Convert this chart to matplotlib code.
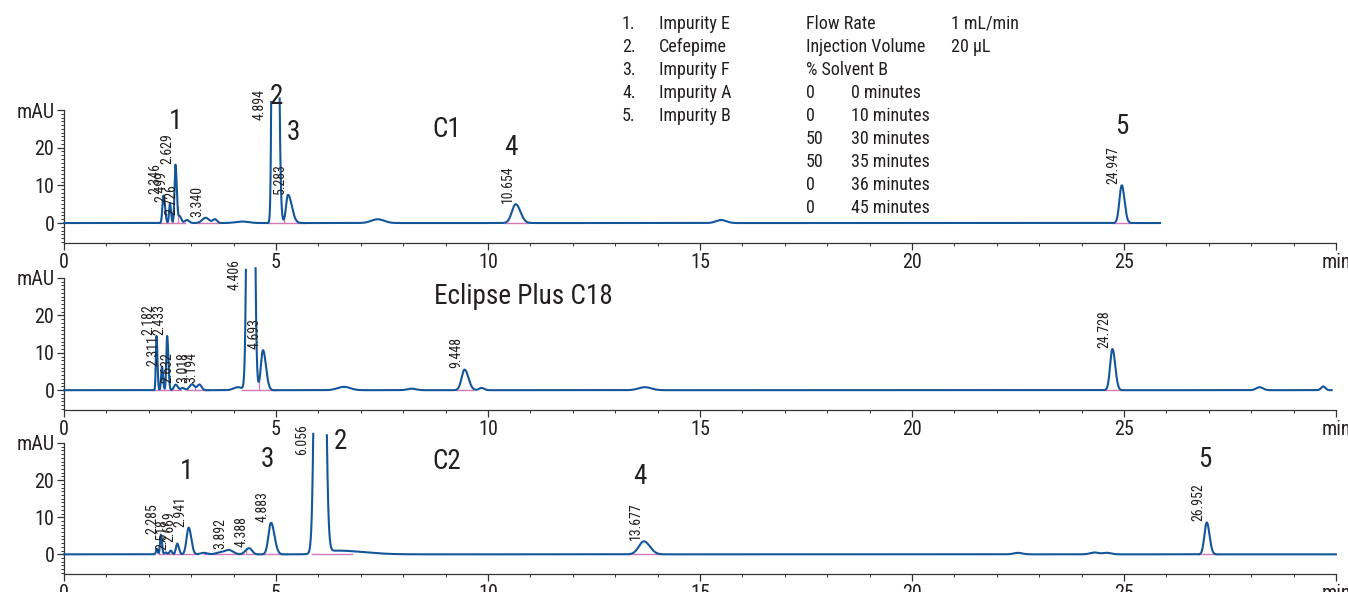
import numpy as np
import matplotlib
matplotlib.use("Agg")
import matplotlib.pyplot as plt
from matplotlib.ticker import MultipleLocator, FixedLocator

plt.rcParams['font.family'] = ['Roboto Condensed', 'DejaVu Sans']

TRACE = '#14569a'
PINK = '#d27ab8'
TXT = '#231f20'

# ---- peak tables: time (min), height (mAU), left/right width ----
c1_rt = [2.346, 2.499, 2.629, 2.726, 2.90, 3.34, 3.56, 4.2, 4.96, 5.283, 7.4, 10.654, 15.5, 24.947]
c1_h = [7.3, 5.2, 15.5, 1.8, 0.8, 1.4, 1.0, 0.4, 300, 7.5, 1.0, 5.0, 0.8, 10.0]
c1_wl = [0.025, 0.02, 0.022, 0.03, 0.05, 0.08, 0.05, 0.15, 0.035, 0.045, 0.15, 0.09, 0.12, 0.055]
c1_wr = [0.035, 0.025, 0.03, 0.04, 0.05, 0.08, 0.05, 0.15, 0.06, 0.09, 0.15, 0.11, 0.12, 0.065]
c1_end = 25.85

c18_rt = [2.182, 2.311, 2.433, 2.632, 2.80, 3.018, 3.194, 4.1, 4.40, 4.693, 6.6, 8.2, 9.448, 9.85, 13.7, 24.728, 28.2, 29.7]
c18_h = [14.5, 6.2, 14.5, 1.5, 0.6, 1.6, 1.5, 0.8, 300, 10.7, 0.9, 0.4, 5.5, 0.6, 0.8, 11.0, 0.8, 1.0]
c18_wl = [0.016, 0.02, 0.02, 0.04, 0.04, 0.06, 0.05, 0.1, 0.052, 0.05, 0.15, 0.1, 0.07, 0.06, 0.15, 0.055, 0.08, 0.05]
c18_wr = [0.022, 0.025, 0.028, 0.05, 0.04, 0.06, 0.05, 0.1, 0.056, 0.07, 0.15, 0.1, 0.09, 0.06, 0.15, 0.065, 0.08, 0.05]
c18_end = 29.9

c2_rt = [2.19, 2.285, 2.40, 2.518, 2.669, 2.941, 3.3, 3.7, 3.892, 4.30, 4.388, 4.883, 6.03, 6.45, 13.677, 22.5, 24.3, 24.6, 26.952]
c2_h = [1.5, 5.3, 0.5, 1.0, 2.9, 7.2, 0.4, 0.6, 1.1, 0.8, 1.3, 8.5, 300, 1.0, 3.5, 0.4, 0.5, 0.4, 8.6]
c2_wl = [0.02, 0.02, 0.03, 0.03, 0.03, 0.05, 0.08, 0.1, 0.08, 0.06, 0.06, 0.06, 0.072, 0.3, 0.12, 0.1, 0.1, 0.1, 0.055]
c2_wr = [0.02, 0.025, 0.03, 0.03, 0.04, 0.06, 0.08, 0.1, 0.1, 0.06, 0.06, 0.08, 0.08, 0.6, 0.14, 0.1, 0.1, 0.1, 0.065]
c2_end = 30.0

# retention-time labels printed above the peaks
c1_labels = [2.346, 2.499, 2.629, 2.726, 3.340, 5.283, 10.654, 24.947]
c18_labels = [2.182, 2.311, 2.433, 2.632, 3.018, 3.194, 4.693, 9.448, 24.728]
c2_labels = [2.285, 2.518, 2.669, 2.941, 3.892, 4.388, 4.883, 13.677, 26.952]
# labels of the off-scale main peak (text, rising edge)
c1_big = ('4.894', 4.89)
c18_big = ('4.406', 4.29)
c2_big = ('6.056', 5.88)

# peak numbers / column names
c1_marks = [('1', 2.64, 27), ('2', 5.0, 33.5), ('3', 5.42, 24), ('C1', 9.03, 24.8), ('4', 10.54, 20), ('5', 24.95, 25.6)]
c18_marks = [('Eclipse Plus C18', 10.83, 25)]
c2_marks = [('1', 2.88, 22.4), ('3', 4.79, 25.6), ('2', 6.51, 30.4), ('C2', 9.03, 25), ('4', 13.58, 21), ('5', 26.9, 25.6)]

# integration baselines (start, end) and drop lines
c1_base = [(2.25, 2.85), (3.15, 3.65), (4.8, 5.65), (10.4, 10.95), (24.75, 25.15)]
c1_drops = [2.43, 2.56, 2.68, 5.18]
c18_base = [(2.1, 2.75), (2.9, 3.4), (4.2, 5.0), (9.25, 9.65), (24.55, 24.95)]
c18_drops = [2.25, 2.37, 2.55, 3.1, 4.6]
c2_base = [(2.25, 3.15), (3.3, 4.25), (4.3, 4.6), (4.65, 5.25), (5.85, 6.8), (13.3, 14.1), (26.75, 27.25)]
c2_drops = [2.47, 2.6, 2.8, 4.3]

legend_items = ['Impurity E', 'Cefepime', 'Impurity F', 'Impurity A', 'Impurity B']
grad_pct = ['0', '0', '50', '50', '0', '0']
grad_time = ['0 minutes', '10 minutes', '30 minutes', '35 minutes', '36 minutes', '45 minutes']


def trace(rt, h, wl, wr, t):
    y = np.zeros_like(t)
    for r, a, sl, sr in zip(rt, h, wl, wr):
        s = np.where(t < r, sl, sr)
        y += a * np.exp(-0.5 * ((t - r) / s) ** 2)
    return y


fig = plt.figure(figsize=(13.48, 5.92), dpi=100)
W, H = 1348, 592


def fpx(x, y):
    return x / W, 1 - y / H


panels = [
    (c1_rt, c1_h, c1_wl, c1_wr, c1_end, c1_labels, c1_big, c1_marks, c1_base, c1_drops, 110, 243, 34.0),
    (c18_rt, c18_h, c18_wl, c18_wr, c18_end, c18_labels, c18_big, c18_marks, c18_base, c18_drops, 278, 410, 33.5),
    (c2_rt, c2_h, c2_wl, c2_wr, c2_end, c2_labels, c2_big, c2_marks, c2_base, c2_drops, 443, 574, 33.6),
]

for rt, h, wl, wr, tend, labels, big, marks, base, drops, ptop, pbot, cap in panels:
    ax = fig.add_axes([64 / W, 1 - pbot / H, (1336 - 64) / W, (pbot - ptop) / H])
    t = np.arange(0, tend, 0.002)
    y = trace(rt, h, wl, wr, t)
    yp = np.where(y > cap, np.nan, y)

    # pink integration marks
    for a, b in base:
        ax.plot([a, b], [0, 0], color=PINK, lw=1.0, zorder=2)
    for d in drops:
        ax.plot([d, d], [0, np.interp(d, t, y)], color=PINK, lw=0.9, zorder=2)

    ax.plot(t, yp, color=TRACE, lw=1.5, zorder=3, clip_on=False)

    for r in labels:
        yy = min(np.interp(r, t, y), cap)
        ax.text(r - 0.03, yy + 0.3, f'{r:.3f}', rotation=90, ha='right', va='bottom',
                fontsize=10, color=TXT)
    ax.text(big[1] - 0.1, cap + 1.5, big[0], rotation=90, ha='right', va='top',
            fontsize=10, color=TXT)
    for s, x, yy in marks:
        ax.text(x, yy, s, ha='center', va='center', fontsize=19.5, color=TXT)

    ax.set_xlim(0, 30)
    ax.set_ylim(-5.3, 30)
    for side in ['top', 'right']:
        ax.spines[side].set_visible(False)
    for side in ['left', 'bottom']:
        ax.spines[side].set_color('#333333')
        ax.spines[side].set_linewidth(0.9)
    ax.xaxis.set_major_locator(FixedLocator([0, 5, 10, 15, 20, 25, 30]))
    ax.set_xticklabels(['0', '5', '10', '15', '20', '25', 'min'])
    ax.xaxis.set_minor_locator(MultipleLocator(1))
    ax.yaxis.set_major_locator(FixedLocator([0, 10, 20, 30]))
    ax.set_yticklabels(['0', '10', '20', 'mAU'])
    ax.yaxis.set_minor_locator(MultipleLocator(1))
    ax.tick_params(axis='both', which='major', direction='out', length=5, width=0.9,
                   color='#333333', labelsize=14.5, labelcolor=TXT, pad=2)
    ax.tick_params(axis='both', which='minor', direction='out', length=2.5, width=0.7,
                   color='#333333')
    ax.patch.set_alpha(0)

# compound list
FS = 13
for i, name in enumerate(legend_items):
    yrow = 24 + 23 * i
    fig.text(*fpx(622, yrow), f'{i + 1}.', ha='left', va='center', fontsize=FS, color=TXT)
    fig.text(*fpx(659, yrow), name, ha='left', va='center', fontsize=FS, color=TXT)

# method conditions
fig.text(*fpx(806, 24), 'Flow Rate', ha='left', va='center', fontsize=FS, color=TXT)
fig.text(*fpx(951, 24), '1 mL/min', ha='left', va='center', fontsize=FS, color=TXT)
fig.text(*fpx(806, 47), 'Injection Volume', ha='left', va='center', fontsize=FS, color=TXT)
fig.text(*fpx(951, 47), '20 µL', ha='left', va='center', fontsize=FS, color=TXT)
fig.text(*fpx(806, 70), '% Solvent B', ha='left', va='center', fontsize=FS, color=TXT)
for i, (p, tm) in enumerate(zip(grad_pct, grad_time)):
    yrow = 93 + 23 * i
    fig.text(*fpx(806, yrow), p, ha='left', va='center', fontsize=FS, color=TXT)
    fig.text(*fpx(851, yrow), tm, ha='left', va='center', fontsize=FS, color=TXT)

fig.savefig('out.png', dpi=100)
